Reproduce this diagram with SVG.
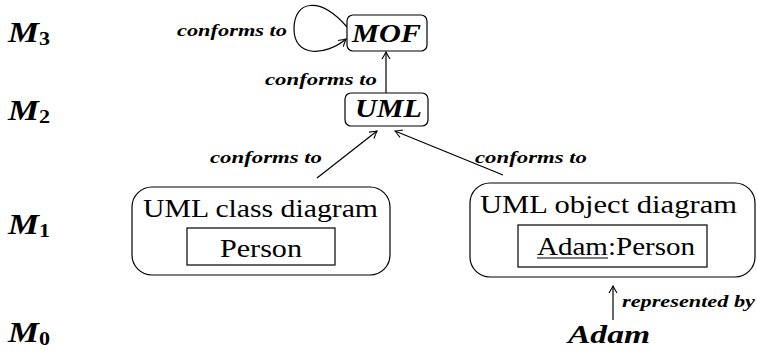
<svg xmlns="http://www.w3.org/2000/svg" width="757" height="350" viewBox="0 0 757 350">
  <style>
    .node { fill: #ffffff; stroke: #000000; stroke-width: 1.2; }
    .edge { fill: none; stroke: #000000; stroke-width: 1.2; }
    .lvl { font-family: "Liberation Serif", "DejaVu Serif", serif; font-size: 30px; font-weight: bold; font-style: italic; fill: #000; }
    .sub { font-family: "Liberation Serif", "DejaVu Serif", serif; font-size: 19px; font-weight: bold; font-style: normal; fill: #000; }
    .meta { font-family: "Liberation Serif", "DejaVu Serif", serif; font-size: 25px; font-weight: bold; font-style: italic; fill: #000; }
    .lbl { font-family: "Liberation Serif", "DejaVu Serif", serif; font-size: 17px; font-weight: bold; font-style: italic; fill: #000; }
    .rm { font-family: "Liberation Serif", "DejaVu Serif", serif; font-size: 25px; fill: #000; }
  </style>
  <defs>
    <marker id="arrow" markerWidth="12" markerHeight="12" refX="0" refY="0" viewBox="-8 -6 10 12" orient="auto" markerUnits="userSpaceOnUse">
      <path d="M -7 -4 Q -2 -1 0 0 Q -2 1 -7 4" fill="none" stroke="#000" stroke-width="1.1"/>
    </marker>
  </defs>

  <!-- level labels -->
  <g id="levels">
    <text class="lvl" x="8" y="42" textLength="42" lengthAdjust="spacingAndGlyphs">M<tspan class="sub" dy="3">3</tspan></text>
    <text class="lvl" x="8" y="120" textLength="42" lengthAdjust="spacingAndGlyphs">M<tspan class="sub" dy="3">2</tspan></text>
    <text class="lvl" x="8" y="234" textLength="42" lengthAdjust="spacingAndGlyphs">M<tspan class="sub" dy="3">1</tspan></text>
    <text class="lvl" x="8" y="342" textLength="42" lengthAdjust="spacingAndGlyphs">M<tspan class="sub" dy="3">0</tspan></text>
  </g>

  <!-- connectors -->
  <g id="connectors">
    <path class="edge" d="M 347 27 C 320 -4, 294 0, 294 29 C 294 58, 326 56, 346 39" marker-end="url(#arrow)"/>
    <line class="edge" x1="386" y1="93" x2="386" y2="52" marker-end="url(#arrow)"/>
    <line class="edge" x1="317" y1="178" x2="377" y2="131" marker-end="url(#arrow)"/>
    <line class="edge" x1="503" y1="175" x2="395" y2="131" marker-end="url(#arrow)"/>
    <line class="edge" x1="613" y1="320" x2="613" y2="286" marker-end="url(#arrow)"/>
    <text class="lbl" x="177" y="36" textLength="110" lengthAdjust="spacingAndGlyphs">conforms to</text>
    <text class="lbl" x="265" y="85" textLength="112" lengthAdjust="spacingAndGlyphs">conforms to</text>
    <text class="lbl" x="210" y="163" textLength="112" lengthAdjust="spacingAndGlyphs">conforms to</text>
    <text class="lbl" x="475" y="163" textLength="112" lengthAdjust="spacingAndGlyphs">conforms to</text>
    <text class="lbl" x="622" y="307" textLength="133" lengthAdjust="spacingAndGlyphs">represented by</text>
  </g>

  <g id="mof">
    <rect class="node" x="347" y="15" width="80" height="36" rx="6"/>
    <text class="meta" x="352" y="42" textLength="69" lengthAdjust="spacingAndGlyphs">MOF</text>
  </g>

  <g id="uml">
    <rect class="node" x="345" y="93" width="83" height="33" rx="6"/>
    <text class="meta" x="355" y="117" textLength="67" lengthAdjust="spacingAndGlyphs">UML</text>
  </g>

  <g id="class-diagram">
    <rect class="node" x="132" y="187" width="258" height="88" rx="20"/>
    <text class="rm" x="143" y="217" textLength="235" lengthAdjust="spacingAndGlyphs">UML class diagram</text>
    <rect class="node" x="187" y="228" width="148" height="37"/>
    <text class="rm" x="220" y="257" textLength="82" lengthAdjust="spacingAndGlyphs">Person</text>
  </g>

  <g id="object-diagram">
    <rect class="node" x="470" y="183" width="285" height="94" rx="20"/>
    <text class="rm" x="480" y="213" textLength="257" lengthAdjust="spacingAndGlyphs">UML object diagram</text>
    <rect class="node" x="518" y="225" width="189" height="42"/>
    <text class="rm" x="537" y="255" textLength="158" lengthAdjust="spacingAndGlyphs">Adam:Person</text>
    <line x1="537" y1="258" x2="608" y2="258" stroke="#000" stroke-width="1"/>
  </g>

  <g id="adam">
    <text class="meta" x="568" y="343" textLength="82" lengthAdjust="spacingAndGlyphs">Adam</text>
  </g>
</svg>
